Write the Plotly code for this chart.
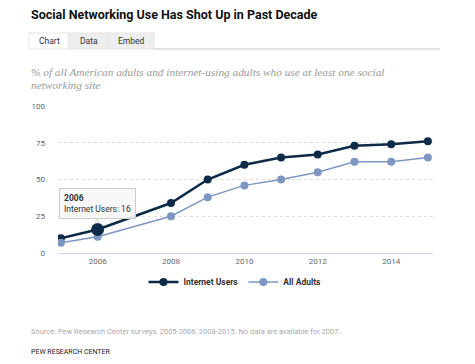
import plotly.graph_objects as go

years = [2005, 2006, 2008, 2009, 2010, 2011, 2012, 2013, 2014, 2015]
internet_users = [10, 16, 34, 50, 60, 65, 67, 73, 74, 76]
all_adults = [7, 11, 25, 38, 46, 50, 55, 62, 62, 65]
y_ticks = [0, 25, 50, 75, 100]
x_ticks = [2006, 2008, 2010, 2012, 2014]
tabs = ["Chart", "Data", "Embed"]

DARK = "#0d2a47"
LIGHT = "#7d97c2"
W, H = 475, 364
L, R, T, B = 58, 42, 106, 111
PW, PH = W - L - R, H - T - B


def px(x):
    return (x - L) / PW


def py(y):
    return (H - B - y) / PH


fig = go.Figure()
fig.add_trace(go.Scatter(x=years, y=internet_users, name="<b>Internet Users</b>",
                         mode="lines+markers",
                         line=dict(color=DARK, width=2.5),
                         marker=dict(color=DARK, size=8)))
fig.add_trace(go.Scatter(x=years, y=all_adults, name="<b>All Adults</b>",
                         mode="lines+markers",
                         line=dict(color=LIGHT, width=1.5),
                         marker=dict(color=LIGHT, size=8)))
# highlighted hover point
fig.add_trace(go.Scatter(x=[years[1]], y=[internet_users[1]], mode="markers",
                         marker=dict(color=DARK, size=13), showlegend=False,
                         hoverinfo="skip"))

shapes = []
annotations = []

# tabs
tab_x = [(29, 69), (69, 108), (108, 154)]
for i, (name, (x0, x1)) in enumerate(zip(tabs, tab_x)):
    shapes.append(dict(type="rect", xref="paper", yref="paper",
                       x0=px(x0), x1=px(x1), y0=py(49), y1=py(33),
                       fillcolor="#ffffff" if i == 0 else "#eeeeee",
                       line=dict(color="#e4e4e4", width=1), layer="below"))
    annotations.append(dict(xref="paper", yref="paper", x=px((x0 + x1) / 2), y=py(41),
                            text=name, showarrow=False, xanchor="center", yanchor="middle",
                            font=dict(family="Roboto", size=8.5, color="#333")))
shapes.append(dict(type="line", xref="paper", yref="paper",
                   x0=px(154), x1=px(440), y0=py(49), y1=py(49),
                   line=dict(color="#e4e4e4", width=2)))

annotations.append(dict(xref="paper", yref="paper", x=px(29), y=py(14),
                        text="<b>Social Networking Use Has Shot Up in Past Decade</b>",
                        showarrow=False, xanchor="left", yanchor="middle",
                        font=dict(family="Roboto", size=12.5, color="#111")))
annotations.append(dict(xref="paper", yref="paper", x=px(29), y=py(72),
                        text="<i>% of all American adults and internet-using adults who use at least one social</i>",
                        showarrow=False, xanchor="left", yanchor="middle", align="left",
                        font=dict(family="Liberation Serif", size=11.3, color="#9a9a9a")))
annotations.append(dict(xref="paper", yref="paper", x=px(29), y=py(85),
                        text="<i>networking site</i>",
                        showarrow=False, xanchor="left", yanchor="middle", align="left",
                        font=dict(family="Liberation Serif", size=11.3, color="#9a9a9a")))
annotations.append(dict(xref="paper", yref="paper", x=px(29), y=py(331),
                        text="Source: Pew Research Center surveys, 2005-2006, 2008-2015. No data are available for 2007.",
                        showarrow=False, xanchor="left", yanchor="middle",
                        font=dict(family="Roboto", size=7.5, color="#aaaaaa")))
annotations.append(dict(xref="paper", yref="paper", x=px(29), y=py(352),
                        text="PEW RESEARCH CENTER",
                        showarrow=False, xanchor="left", yanchor="middle",
                        font=dict(family="Roboto", size=7, color="#222")))
# tooltip
annotations.append(dict(xref="x", yref="y", x=years[1], y=internet_users[1],
                        text="<b>%d</b><br>Internet Users: %d" % (years[1], internet_users[1]),
                        showarrow=True, arrowhead=0, arrowcolor="#cccccc", arrowwidth=1,
                        ax=0, ay=-26, standoff=6, align="left",
                        bgcolor="rgba(247,247,247,0.92)", bordercolor="#cccccc",
                        borderwidth=1, borderpad=4,
                        font=dict(family="Roboto", size=8.5, color="#333")))

fig.update_layout(
    width=W, height=H,
    margin=dict(l=L, r=R, t=T, b=B, pad=0),
    paper_bgcolor="white", plot_bgcolor="white",
    showlegend=True,
    legend=dict(orientation="h", x=px(235), xanchor="center", xref="paper",
                y=py(282), yref="paper", yanchor="middle",
                font=dict(family="Roboto", size=8.5, color="#333"),
                itemwidth=30, traceorder="normal"),
    xaxis=dict(range=[2004.92, 2015.14], tickvals=x_ticks,
               showgrid=False, zeroline=False, showline=True, linecolor="#ccd6eb",
               linewidth=1, ticks="", tickfont=dict(family="Roboto", size=8, color="#666")),
    yaxis=dict(range=[0, 100], tickvals=y_ticks, showgrid=True,
               gridcolor="#dddddd", griddash="dot", gridwidth=1, zeroline=False,
               showline=False, ticks="", ticklabelstandoff=12,
               tickfont=dict(family="Roboto", size=8, color="#666")),
    shapes=shapes, annotations=annotations,
    hovermode=False,
)

fig.write_html("out.html", config={"displayModeBar": False},
               post_script="document.body.style.margin='0px';")
